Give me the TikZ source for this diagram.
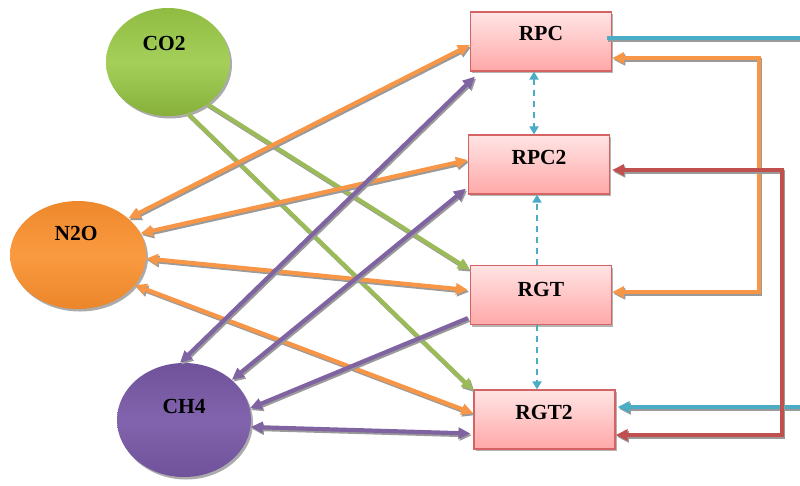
\documentclass[tikz,border=0pt]{standalone}
\usepackage{fontspec}
\setmainfont{Liberation Serif}
\usetikzlibrary{arrows.meta,shapes.geometric,shadows}
\definecolor{cgreen}{HTML}{9BBB59}
\definecolor{corange}{HTML}{F79646}
\definecolor{cpurple}{HTML}{8064A2}
\definecolor{cred}{HTML}{C0504D}
\definecolor{cblue}{HTML}{4BACC6}
\definecolor{boxtop}{HTML}{FFE4E4}
\definecolor{boxbot}{HTML}{FFA8A8}
\definecolor{boxline}{HTML}{D46464}
\definecolor{shcol}{HTML}{9A9A9A}
\newcommand\shline[2]{%
  \draw[#1, draw=shcol, transform canvas={shift={(1.3pt,-1.8pt)}}] #2;
  \draw[#1] #2;}
\begin{document}
\begin{tikzpicture}[x=1pt,y=-1pt,
  gas/.style={ellipse, draw=none, drop shadow={shadow xshift=2pt,shadow yshift=-2.5pt,fill=black!55,opacity=0.6}},
  lbl/.style={font=\fontsize{21.5}{24}\selectfont\bfseries, inner sep=0pt},
  rbox/.style={rectangle, draw=boxline, line width=1.2pt, top color=boxtop, bottom color=boxbot, minimum width=141pt, minimum height=59pt, drop shadow={shadow xshift=1.5pt,shadow yshift=-2pt,fill=black!50,opacity=0.6}},
  conn/.style={line width=4.2pt},
  one/.style={conn, -{Triangle[length=12pt,width=11pt]}},
  two/.style={conn, {Triangle[length=12pt,width=11pt]}-{Triangle[length=12pt,width=11pt]}},
  dsh/.style={cblue, line width=2.2pt, dash pattern=on 6pt off 5pt},
]
\useasboundingbox (0,0) rectangle (800,485);
% ellipses
\node[gas, minimum width=124pt, minimum height=108pt, top color={rgb,255:red,144;green,188;blue,66}, bottom color={rgb,255:red,134;green,176;blue,58}, middle color={rgb,255:red,164;green,208;blue,90}] (co2) at (168,62) {};
\node[gas, minimum width=136pt, minimum height=108pt, top color={rgb,255:red,238;green,136;blue,44}, bottom color={rgb,255:red,236;green,134;blue,42}, middle color={rgb,255:red,250;green,154;blue,64}] (n2o) at (78,255) {};
\node[gas, minimum width=134pt, minimum height=114pt, top color={rgb,255:red,112;green,82;blue,154}, bottom color={rgb,255:red,112;green,82;blue,154}, middle color={rgb,255:red,130;green,100;blue,174}] (ch4) at (184,420) {};
\node[lbl] (co2t) at (164,43) {CO2};
\node[lbl] (n2ot) at (76,233) {N2O};
\node[lbl] (ch4t) at (184,406) {CH4};
% boxes
\node[rbox] (rpc) at (541,41.5) {};
\node[rbox] (rpc2) at (539,164.5) {};
\node[rbox] (rgt) at (541,295) {};
\node[rbox] (rgt2) at (544.5,419.5) {};
\node[lbl] (rpct) at (541,33) {RPC};
\node[lbl] (rpc2t) at (539,157) {RPC2};
\node[lbl] (rgtt) at (541,289) {RGT};
\node[lbl] (rgt2t) at (544,412) {RGT2};
% green
\shline{one, cgreen}{(co2.-69) -- ([yshift=-1pt]rgt2.north west)}
\shline{one, cgreen}{(co2.-47) -- ([yshift=-5pt]rgt.north west)}
% orange
\shline{two, corange}{(n2o.36) -- ([yshift=-3.5pt]rpc.west)}
\shline{two, corange}{(n2o.19) -- ([yshift=4.5pt]rpc2.west)}
\shline{two, corange}{(n2o.-3) -- ([yshift=5pt,xshift=-2pt]rgt.west)}
\shline{two, corange}{(n2o.-28) -- ([yshift=6pt]rgt2.west)}
% purple
\shline{two, cpurple}{(ch4.94) -- ([shift={(5pt,-5pt)}]rpc.south west)}
\shline{two, cpurple}{(ch4.40) -- ([shift={(-2pt,6pt)}]rpc2.south west)}
\shline{one, cpurple}{([shift={(-2pt,7pt)}]rgt.south west) -- (ch4.10)}
\shline{two, cpurple}{(ch4.-6) -- ([yshift=-14pt,xshift=-3pt]rgt2.west)}
% dashed
\draw[dsh, {Triangle[length=8pt,width=9pt]}-{Triangle[length=8pt,width=9pt]}] ([xshift=-7pt]rpc.south) -- ([xshift=-5pt]rpc2.north);
\draw[dsh, -{Triangle[length=8pt,width=9pt]}] ([xshift=-4pt]rgt.north) -- ([xshift=-2pt]rpc2.south);
\draw[dsh, -{Triangle[length=8pt,width=9pt]}] ([xshift=-4pt]rgt.south) -- ([xshift=-7.5pt]rgt2.north);
% right side
\coordinate (rt) at (800,38);
\coordinate (rb) at (800,407);
\shline{conn, cblue}{([shift={(-5pt,3.5pt)}]rpc.east) -- (rt)}
\shline{one, cblue}{(rb) -- ([shift={(2pt,12.5pt)}]rgt2.east)}
\shline{two, corange}{([yshift=-16.5pt]rpc.east) -| (759,292) -- ([yshift=3pt]rgt.east)}
\shline{two, cred}{([yshift=-5.5pt, xshift=2pt]rpc2.east) -| (782,435) -- ([yshift=-15.5pt]rgt2.east)}
\end{tikzpicture}
\end{document}
